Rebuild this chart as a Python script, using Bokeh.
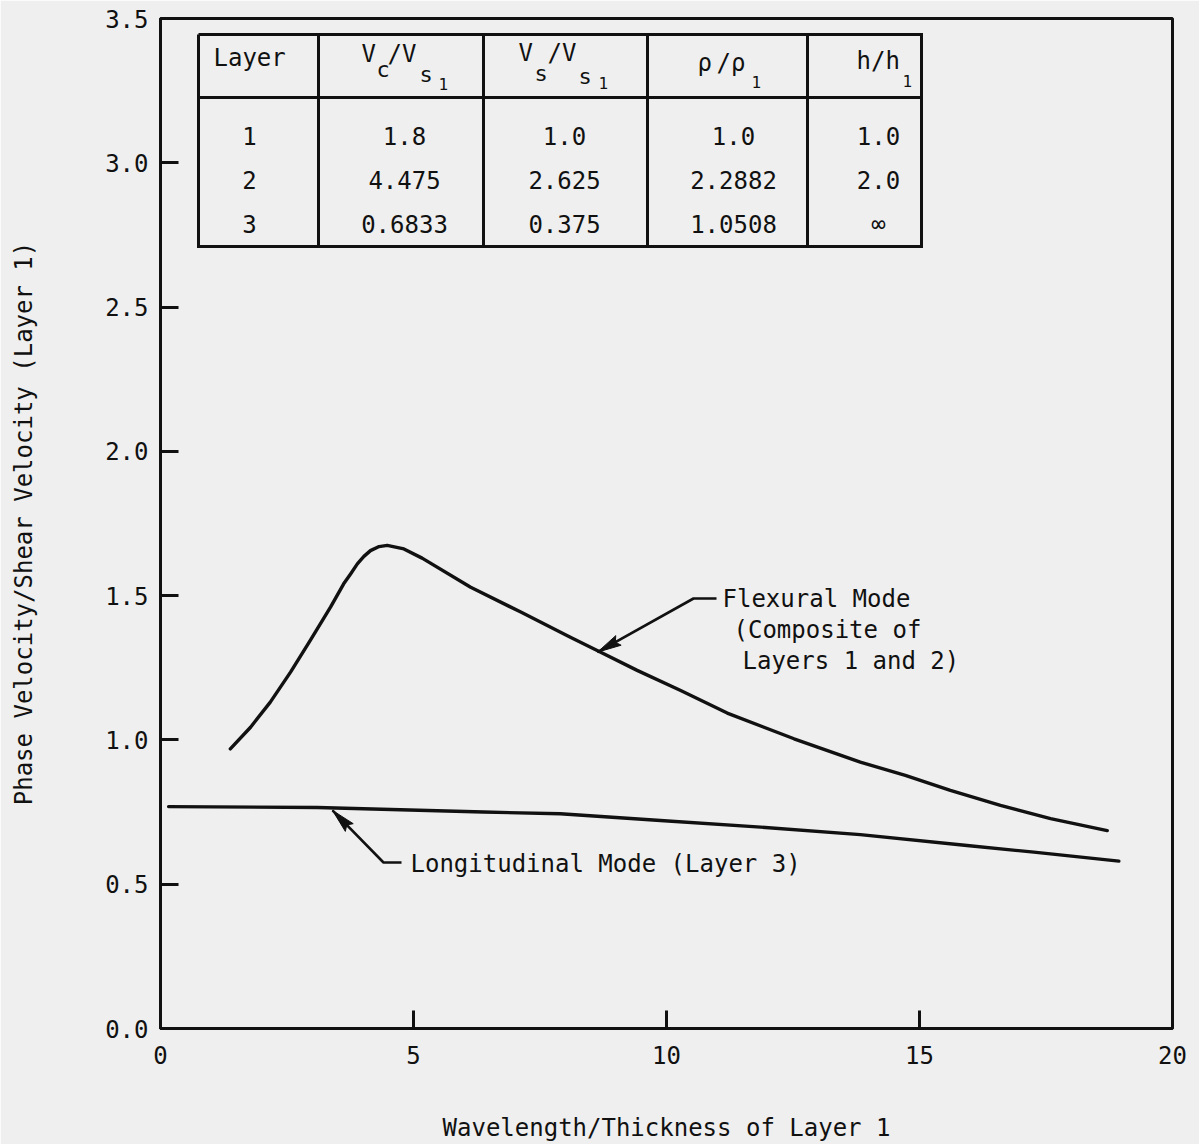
import numpy as np
from bokeh.plotting import figure
from bokeh.models import FixedTicker, PrintfTickFormatter, Range1d
from bokeh.core.properties import value
from bokeh.embed import file_html
from bokeh.resources import INLINE

# ---------------- data ----------------
flex_x = [1.38, 1.78, 2.17, 2.57, 2.96, 3.36, 3.62, 3.76, 3.89, 4.02, 4.15, 4.32, 4.48,
          4.81, 5.17, 6.13, 7.12, 8.10, 8.63, 9.42, 10.28, 11.20, 12.52, 13.83, 14.72,
          15.61, 16.60, 17.59, 18.71]
flex_y = [0.969, 1.044, 1.131, 1.235, 1.345, 1.460, 1.541, 1.576, 1.610, 1.636, 1.656, 1.670, 1.674,
          1.662, 1.630, 1.529, 1.443, 1.356, 1.310, 1.241, 1.171, 1.093, 1.004, 0.923, 0.877,
          0.825, 0.773, 0.727, 0.686]
long_x = [0.16, 3.1, 6.38, 7.9, 9.88, 11.86, 13.83, 15.94, 17.26, 18.94]
long_y = [0.769, 0.766, 0.750, 0.744, 0.721, 0.698, 0.672, 0.634, 0.611, 0.580]

x_ticks = [0, 5, 10, 15, 20]
y_ticks = [0.0, 0.5, 1.0, 1.5, 2.0, 2.5, 3.0, 3.5]

table_layer = ["1", "2", "3"]
table_vc = ["1.8", "4.475", "0.6833"]
table_vs = ["1.0", "2.625", "0.375"]
table_rho = ["1.0", "2.2882", "1.0508"]
table_h = ["1.0", "2.0", "\u221e"]

flex_label = ["Flexural Mode", "(Composite of", "Layers 1 and 2)"]
long_label = "Longitudinal Mode (Layer 3)"

# ---------------- layout ----------------
FONT = "DejaVu Sans Mono"
INK = "#111111"
BG = "#efefef"
W, H = 1199, 1144
FL, FT, FW, FH = 160, 18, 1012, 1010
X0, X1, Y0, Y1 = 0, 20, 0, 3.5
SX = FW / (X1 - X0)
SY = FH / (Y1 - Y0)


def px2x(px):
    return X0 + (px - FL) / SX


def px2y(py):
    return Y0 + (FT + FH - py) / SY


p = figure(width=W, height=H, output_backend="svg", toolbar_location=None,
           x_range=Range1d(X0, X1), y_range=Range1d(Y0, Y1),
           min_border_left=FL, min_border_right=W - FL - FW,
           min_border_top=FT, min_border_bottom=H - FT - FH)
p.background_fill_color = BG
p.border_fill_color = BG
p.outline_line_color = INK
p.outline_line_width = 3
p.grid.visible = False

for ax in (p.xaxis[0], p.yaxis[0]):
    ax.axis_line_width = 3
    ax.axis_line_color = INK
    ax.major_tick_in = 18
    ax.major_tick_out = 0
    ax.major_tick_line_width = 3
    ax.major_tick_line_color = INK
    ax.minor_tick_line_color = None
    ax.major_label_text_font = FONT
    ax.major_label_text_font_size = "24px"
    ax.major_label_text_color = INK
    ax.axis_label_text_font = FONT
    ax.axis_label_text_font_size = "24px"
    ax.axis_label_text_font_style = "normal"
    ax.axis_label_text_color = INK

p.xaxis.ticker = FixedTicker(ticks=x_ticks)
p.yaxis.ticker = FixedTicker(ticks=y_ticks)
p.xaxis.formatter = PrintfTickFormatter(format="%d")
p.yaxis.formatter = PrintfTickFormatter(format="%.1f")
p.xaxis.major_label_standoff = 17
p.yaxis.major_label_standoff = 12
p.xaxis.axis_label = "Wavelength/Thickness of Layer 1"
p.yaxis.axis_label = "Phase Velocity/Shear Velocity (Layer 1)"
p.xaxis.axis_label_standoff = 47
p.yaxis.axis_label_standoff = 64

# ---------------- curves ----------------
p.line(flex_x, flex_y, line_color=INK, line_width=3.4, line_join="round", line_cap="round")
p.line(long_x, long_y, line_color=INK, line_width=3.4, line_join="round", line_cap="round")


# ---------------- arrows ----------------
def head(tx, ty, fx, fy, length=24, half=5.5):
    dx = (fx - tx) * SX
    dy = (fy - ty) * SY
    n = np.hypot(dx, dy)
    ux, uy = dx / n, dy / n
    bx, by = ux * length, uy * length
    nx, ny = -uy * half, ux * half
    pts = [(0, 0), (bx + nx, by + ny), (bx * 0.85, by * 0.85), (bx - nx, by - ny)]
    return [tx + a / SX for a, b in pts], [ty + b / SY for a, b in pts]


# flexural arrow
ft_x = px2x(597)
ft_y = float(np.interp(ft_x, flex_x, flex_y)) - 1.5 / SY
fe_x, fe_y = px2x(693), px2y(598)
p.line([ft_x, fe_x, px2x(716)], [ft_y, fe_y, fe_y], line_color=INK, line_width=2.6)
hx, hy = head(ft_x, ft_y, fe_x, fe_y)
p.patch(hx, hy, fill_color=INK, line_color=INK, line_width=1)

# longitudinal arrow
lt_x = px2x(332)
lt_y = float(np.interp(lt_x, long_x, long_y)) - 2.5 / SY
le_x, le_y = px2x(383), px2y(862)
p.line([lt_x, le_x, px2x(401)], [lt_y, le_y, le_y], line_color=INK, line_width=2.6)
hx, hy = head(lt_x, lt_y, le_x, le_y)
p.patch(hx, hy, fill_color=INK, line_color=INK, line_width=1)

p.text(x=[px2x(722), px2x(733), px2x(742)], y=[px2y(598), px2y(629), px2y(660)],
       text=flex_label, text_font=value(FONT), text_font_size=value("24px"),
       text_color=INK, text_align="left", text_baseline="middle")
p.text(x=[px2x(410)], y=[px2y(863)], text=[long_label],
       text_font=value(FONT), text_font_size=value("24px"),
       text_color=INK, text_align="left", text_baseline="middle")

# ---------------- table inset ----------------
tb_l, tb_r, tb_t, tb_b = 198, 921, 34, 246
tb_head = 97
tb_cols = [318, 483, 647, 807]
xs = [[px2x(tb_l), px2x(tb_r), px2x(tb_r), px2x(tb_l), px2x(tb_l)],
      [px2x(tb_l), px2x(tb_r)]]
ys = [[px2y(tb_t), px2y(tb_t), px2y(tb_b), px2y(tb_b), px2y(tb_t)],
      [px2y(tb_head), px2y(tb_head)]]
for c in tb_cols:
    xs.append([px2x(c), px2x(c)])
    ys.append([px2y(tb_t), px2y(tb_b)])
p.multi_line(xs, ys, line_color=INK, line_width=3, line_join="miter")

# header pieces: (text, left px, middle px, size px)
header = [("Layer", 213, 57, 24),
          ("V", 361, 53, 24), ("c", 376, 69, 22), ("/V", 387, 53, 24),
          ("s", 419, 74, 22), ("1", 438, 83, 16),
          ("V", 518, 52, 24), ("s", 534, 73, 22), ("/V", 547, 52, 24),
          ("s", 578, 76, 22), ("1", 598, 82, 16),
          ("\u03c1", 697, 62, 24), ("/\u03c1", 716, 62, 24), ("1", 751, 81, 16),
          ("h/h", 856, 60, 24), ("1", 902, 80, 16)]
for sz in (24, 22, 16):
    part = [h for h in header if h[3] == sz]
    p.text(x=[px2x(h[1]) for h in part], y=[px2y(h[2]) for h in part],
           text=[h[0] for h in part], text_font=value(FONT),
           text_font_size=value(f"{sz}px"), text_color=INK,
           text_align="left", text_baseline="middle")

col_centers = [249, 404, 564, 733, 878]
row_mid = [135.5, 179.5, 223]
columns = [table_layer, table_vc, table_vs, table_rho, table_h]
cx, cy, ct = [], [], []
for cc, col in zip(col_centers, columns):
    for rm, txt in zip(row_mid, col):
        cx.append(px2x(cc))
        cy.append(px2y(rm))
        ct.append(txt)
p.text(x=cx, y=cy, text=ct, text_font=value(FONT), text_font_size=value("24px"),
       text_color=INK, text_align="center", text_baseline="middle")

open("out.html", "w").write(file_html(p, INLINE))
